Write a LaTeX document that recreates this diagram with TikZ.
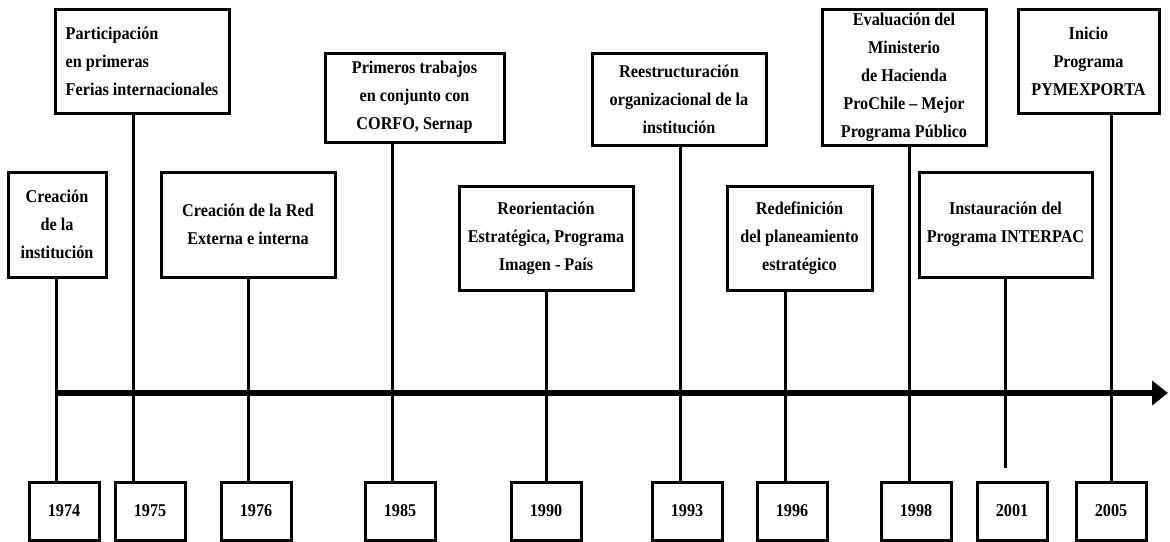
\documentclass[tikz,border=0pt]{standalone}
\usepackage{fontspec}
\usetikzlibrary{arrows.meta}
\newfontfamily\lineafont{Liberation Serif}[FakeStretch=0.9]

\begin{document}
\begin{tikzpicture}[x=1pt, y=-1pt,
    hito/.style={draw, line width=3pt, align=center, inner sep=0pt,
        font=\lineafont\bfseries\fontsize{18}{28}\selectfont},
    anio/.style={draw, line width=3pt, minimum width=70pt, minimum height=58pt, inner sep=0pt,
        font=\lineafont\bfseries\fontsize{18}{20}\selectfont},
    enlace/.style={line width=3pt},
    eje/.style={line width=6pt, -{Triangle[length=16pt, width=24pt]}}]

    \useasboundingbox (0,0) rectangle (1170,541);

    % posiciones de cada hito sobre el eje
    \coordinate (t1974) at (56,393);
    \coordinate (t1975) at (133,393);
    \coordinate (t1976) at (248,393);
    \coordinate (t1985) at (392,393);
    \coordinate (t1990) at (546,393);
    \coordinate (t1993) at (680,393);
    \coordinate (t1996) at (785,393);
    \coordinate (t1998) at (909,393);
    \coordinate (t2001) at (1005,393);
    \coordinate (t2005) at (1111,393);
    \coordinate (fineje) at (1168,393);

    % cuadros de los hitos
    \node[hito, minimum width=98pt, minimum height=105pt] (creacion) at (57,224.5)
        {Creación\\de la\\institución};
    \node[hito, align=left, minimum width=174pt, minimum height=104pt] (participacion) at (142,61)
        {Participación\\en primeras\\Ferias internacionales};
    \node[hito, minimum width=174pt, minimum height=105pt] (red) at (248,224.5)
        {Creación de la Red\\Externa e interna};
    \node[hito, minimum width=179pt, minimum height=89pt] (primeros) at (414.5,97.5)
        {Primeros trabajos\\en conjunto con\\CORFO, Sernap};
    \node[hito, minimum width=174pt, minimum height=104pt] (reorientacion) at (546,238)
        {Reorientación\\Estratégica, Programa\\Imagen - País};
    \node[hito, minimum width=174pt, minimum height=92pt] (reestructuracion) at (679,99)
        {Reestructuración\\organizacional de la\\institución};
    \node[hito, minimum width=145pt, minimum height=104pt] (redefinicion) at (799.5,238)
        {Redefinición\\del planeamiento\\estratégico};
    \node[hito, minimum width=164pt, minimum height=136pt] (evaluacion) at (904,77)
        {Evaluación del\\Ministerio\\de Hacienda\\ProChile – Mejor\\Programa Público};
    \node[hito, minimum width=141pt, minimum height=104pt] (inicio) at (1088.5,61)
        {Inicio\\Programa\\PYMEXPORTA};
    \node[hito, minimum width=173pt, minimum height=105pt] (instauracion) at (1005.5,224.5)
        {Instauración del\\Programa INTERPAC};

    % cuadros de los años
    \node[anio] (a1974) at (64,511) {1974};
    \node[anio] (a1975) at (150,511) {1975};
    \node[anio] (a1976) at (256,511) {1976};
    \node[anio] (a1985) at (400,511) {1985};
    \node[anio] (a1990) at (546,511) {1990};
    \node[anio] (a1993) at (687,511) {1993};
    \node[anio] (a1996) at (792,511) {1996};
    \node[anio] (a1998) at (916,511) {1998};
    \node[anio] (a2001) at (1012,511) {2001};
    \node[anio] (a2005) at (1111,511) {2005};

    % lineas verticales
    \draw[enlace] (creacion.south -| t1974) -- (a1974.north -| t1974);
    \draw[enlace] (participacion.south -| t1975) -- (a1975.north -| t1975);
    \draw[enlace] (red.south -| t1976) -- (a1976.north -| t1976);
    \draw[enlace] (primeros.south -| t1985) -- (a1985.north -| t1985);
    \draw[enlace] (reorientacion.south -| t1990) -- (a1990.north -| t1990);
    \draw[enlace] (reestructuracion.south -| t1993) -- (a1993.north -| t1993);
    \draw[enlace] (redefinicion.south -| t1996) -- (a1996.north -| t1996);
    \draw[enlace] (evaluacion.south -| t1998) -- (a1998.north -| t1998);
    \draw[enlace] (instauracion.south -| t2001) -- ([yshift=13pt]a2001.north -| t2001);
    \draw[enlace] (inicio.south -| t2005) -- (a2005.north -| t2005);

    % eje del tiempo
    \draw[eje] (t1974) -- (fineje);
\end{tikzpicture}
\end{document}
